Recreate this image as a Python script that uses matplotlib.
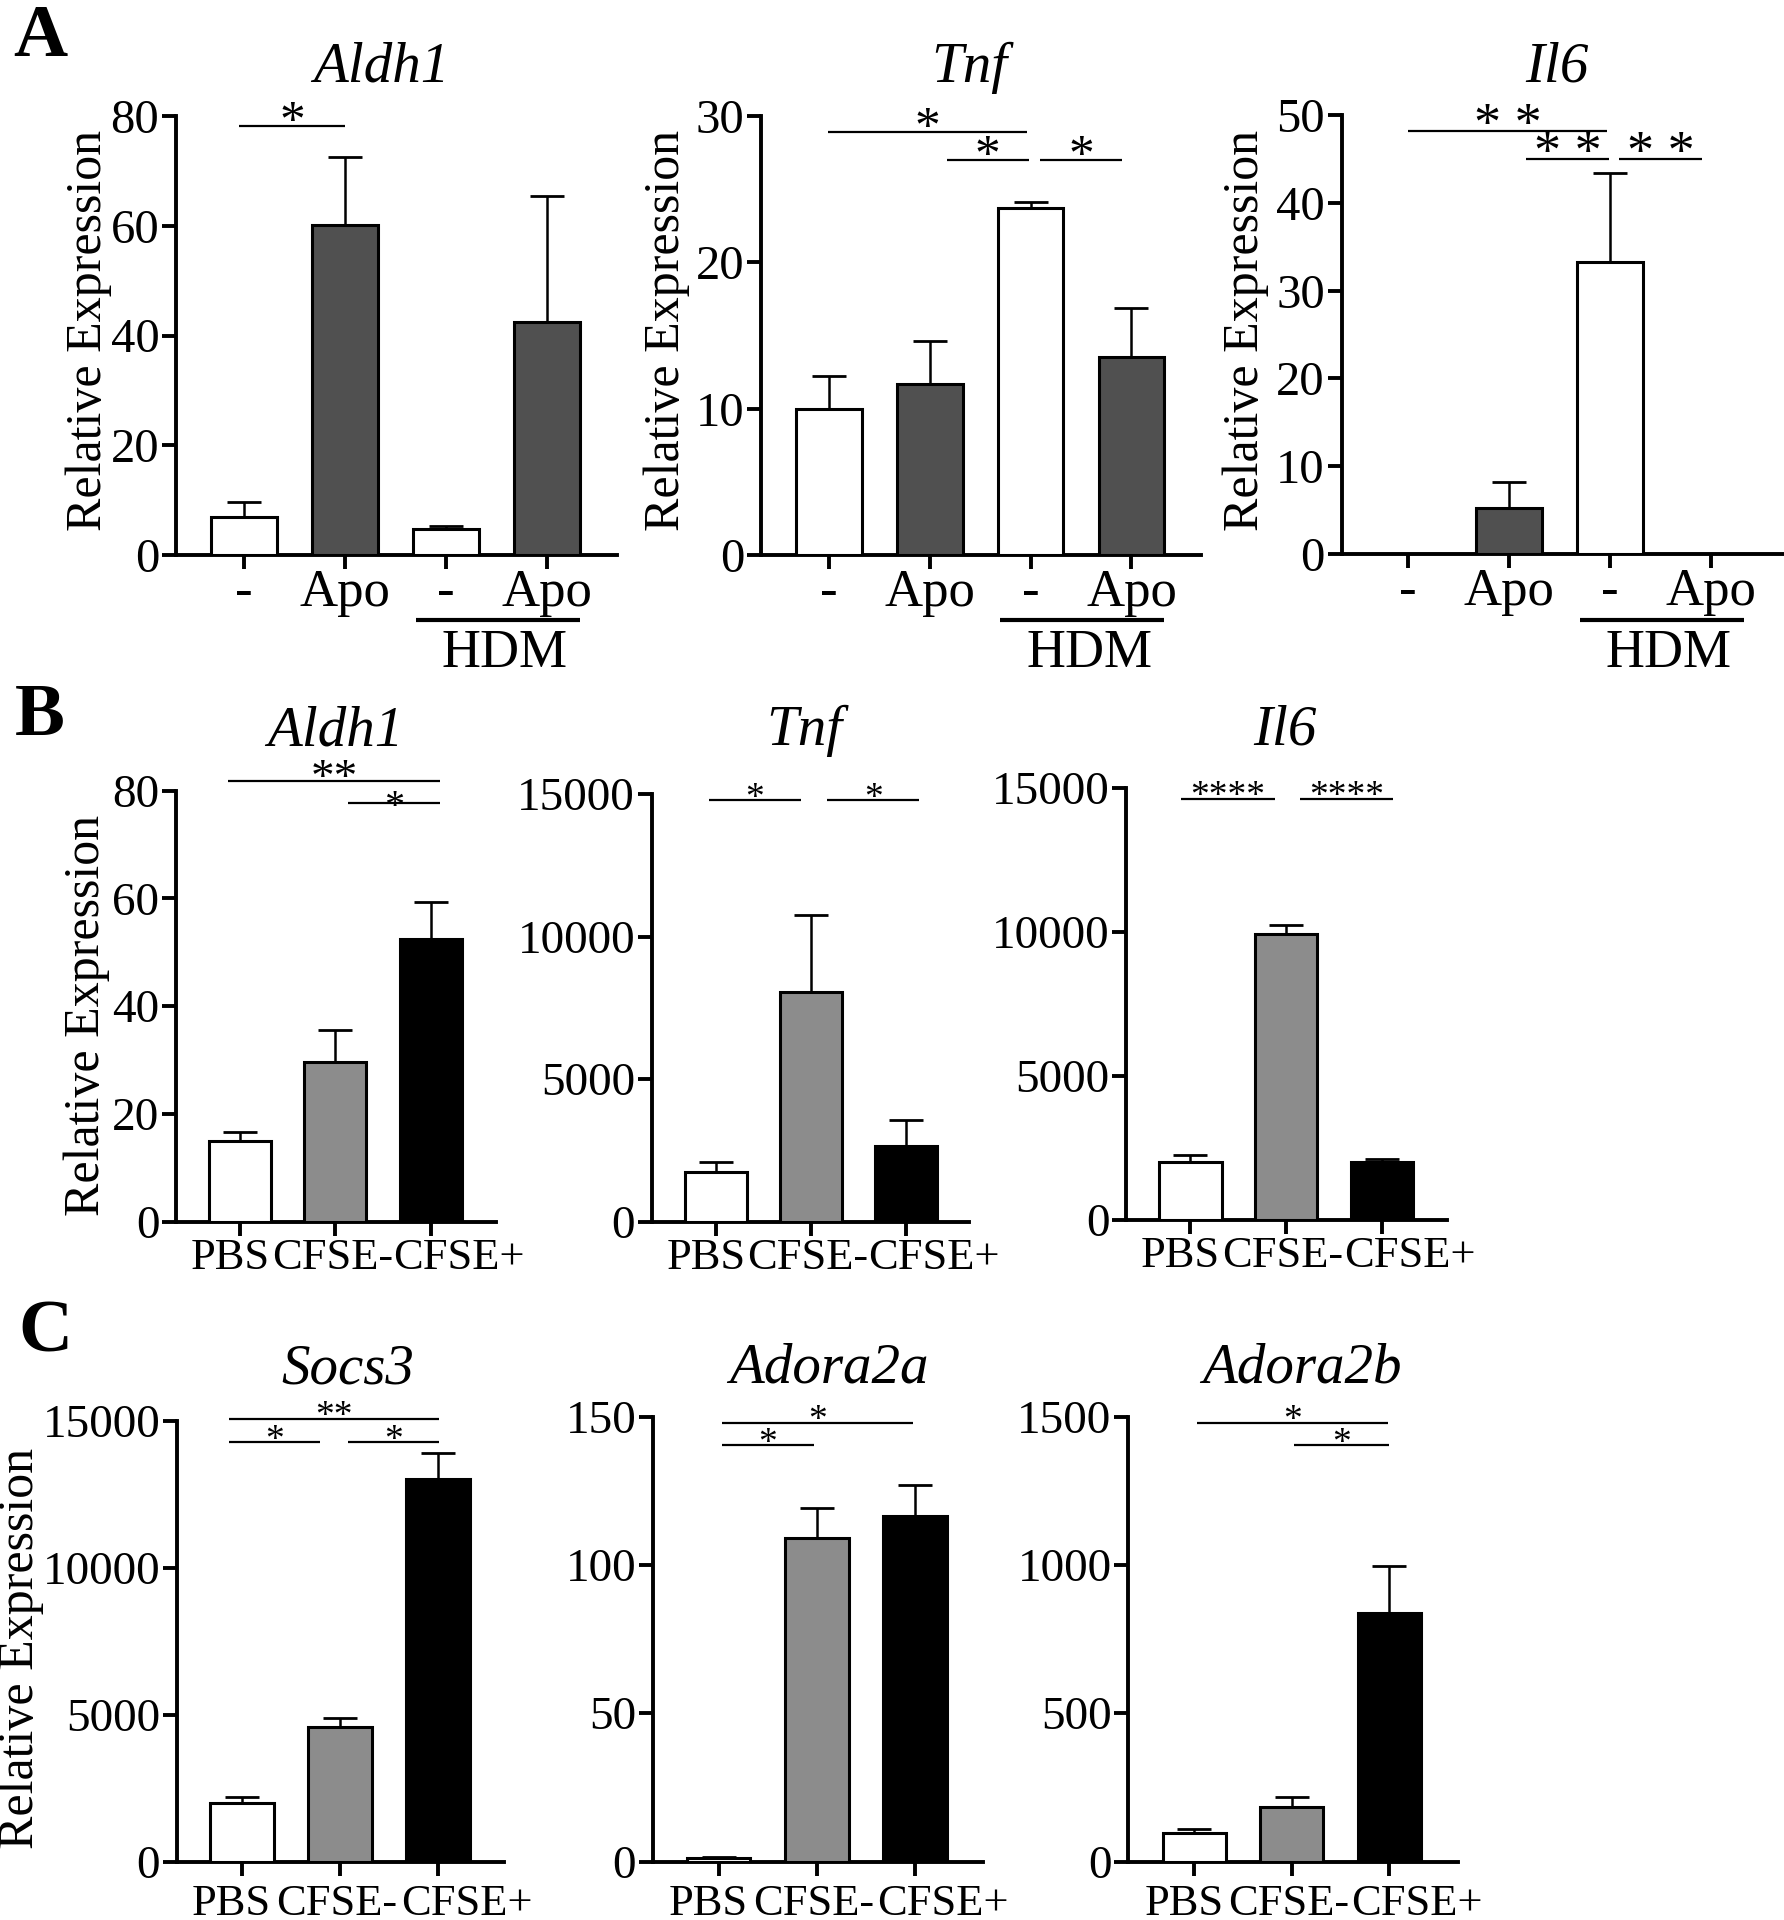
import numpy as np
import matplotlib
matplotlib.use("Agg")
import matplotlib.pyplot as plt
from matplotlib.transforms import blended_transform_factory, ScaledTranslation

plt.rcParams['font.family'] = ['Liberation Serif', 'DejaVu Serif']

W, H, DPI = 1784, 1920, 100

# ---------------- data ----------------
groups_A = ['-', 'Apo', '-', 'Apo']
groups_BC = ['PBS', 'CFSE-', 'CFSE+']
fill_A = ['white', '#505050', 'white', '#505050']
fill_BC = ['white', '#8c8c8c', 'black']

A_aldh1 = [7.0, 60.2, 4.7, 42.5]
A_aldh1_err = [2.7, 12.3, 0.5, 22.9]
A_tnf = [10.0, 11.7, 23.7, 13.5]
A_tnf_err = [2.25, 2.9, 0.4, 3.35]
A_il6 = [0.0, 5.2, 33.3, 0.0]
A_il6_err = [0.0, 3.0, 10.1, 0.0]

B_aldh1 = [14.9, 29.7, 52.5]
B_aldh1_err = [1.8, 5.9, 6.8]
B_tnf = [1750, 8060, 2660]
B_tnf_err = [330, 2700, 910]
B_il6 = [2020, 9930, 2020]
B_il6_err = [210, 290, 80]

C_socs3 = [1980, 4570, 13020]
C_socs3_err = [200, 320, 890]
C_adora2a = [1.2, 109.2, 116.4]
C_adora2a_err = [0.4, 10.0, 10.4]
C_adora2b = [95, 183, 839]
C_adora2b_err = [14, 33, 157]

# significance brackets: (x_start, x_end, y, label)
sig_A_aldh1 = [(-0.045, 1.0, 78.1, '*')]
sig_A_tnf = [(-0.01, 1.96, 28.9, '*'), (1.17, 1.98, 27.0, '*'), (2.09, 2.91, 27.0, '*')]
sig_A_il6 = [(0.0, 1.97, 48.2, '* *'), (1.17, 1.99, 45.0, '* *'), (2.09, 2.91, 45.0, '* *')]
sig_B_aldh1 = [(-0.12, 2.10, 81.8, '**'), (1.13, 2.10, 77.8, '*')]
sig_B_tnf = [(-0.08, 0.89, 14800, '*'), (1.17, 2.14, 14800, '*')]
sig_B_il6 = [(-0.10, 0.88, 14620, '****'), (1.14, 2.12, 14620, '****')]
sig_C_socs3 = [(-0.13, 2.01, 15070, '**'), (-0.13, 0.80, 14260, '*'), (1.08, 2.01, 14260, '*')]
sig_C_adora2a = [(0.03, 1.98, 148, '*'), (0.03, 0.97, 140.3, '*')]
sig_C_adora2b = [(0.03, 1.99, 1480, '*'), (1.02, 2.0, 1404, '*')]

fig = plt.figure(figsize=(W / DPI, H / DPI), dpi=DPI)

BC_LABEL_SHIFT = [-10, -3, 28]   # px shifts of the crowded category labels


def make_panel(box, mean, err, labels, fills, yticks, xlim, title, title_x, title_base,
               sigs, star_fs, star_gap, tick_fs, xtick_fs, xpad, ylabel_px=None,
               hdm=False, capsize=12.5, label_shift=None):
    l, r, t, b = box
    ax = fig.add_axes([l / W, 1 - b / H, (r - l) / W, (b - t) / H])
    x = np.arange(len(mean))
    ax.bar(x, mean, width=0.65, color=fills, edgecolor='black', linewidth=2.2, zorder=3)
    m = np.array(err) > 0
    ax.errorbar(x[m], np.array(mean)[m], yerr=[np.zeros(m.sum()), np.array(err)[m]],
                fmt='none', ecolor='black', elinewidth=1.8, capsize=capsize,
                capthick=2.0, zorder=2, clip_on=False)
    ax.set_xlim(*xlim)
    ax.set_ylim(0, yticks[-1])
    ax.set_yticks(yticks)
    ax.set_yticklabels([str(v) for v in yticks])
    ax.set_xticks(x)
    ax.set_xticklabels(labels)
    for s in ['top', 'right']:
        ax.spines[s].set_visible(False)
    for s in ['left', 'bottom']:
        ax.spines[s].set_linewidth(2.8)
    ax.tick_params(axis='y', length=10, width=2.8, labelsize=tick_fs, pad=2)
    ax.tick_params(axis='x', length=10, width=2.8, labelsize=xtick_fs, pad=xpad)
    ax.patch.set_alpha(0)
    if label_shift is not None:
        for lbl, dx in zip(ax.get_xticklabels(), label_shift):
            lbl.set_transform(lbl.get_transform() +
                              ScaledTranslation(dx / DPI, 0, fig.dpi_scale_trans))

    def yfrac(yp):
        return (b - yp) / (b - t)

    blend = blended_transform_factory(ax.transData, ax.transAxes)
    ax.text(title_x, yfrac(title_base), title, transform=blend, ha='center',
            va='baseline', fontsize=41, fontstyle='italic')

    for (x1, x2, yv, lab, *rest) in sigs:
        fs = rest[0] if rest else star_fs
        gap = rest[1] if len(rest) > 1 else star_gap
        ax.plot([x1, x2], [yv, yv], color='black', lw=1.6, clip_on=False,
                solid_capstyle='butt')
        em = fs * DPI / 72.0
        dy_px = gap - 0.265 * em
        tr = ax.transData + ScaledTranslation(0, dy_px / DPI, fig.dpi_scale_trans)
        ax.text((x1 + x2) / 2, yv, lab, transform=tr, ha='center', va='baseline',
                fontsize=fs)

    if ylabel_px is not None:
        ax.set_ylabel('Relative Expression', fontsize=36, va='center')
        ax.yaxis.set_label_coords((ylabel_px[0] - l) / (r - l), yfrac(ylabel_px[1]))

    if hdm:
        ax.plot([1.70, 3.32], [yfrac(620), yfrac(620)], transform=blend, color='black',
                lw=3.0, clip_on=False, solid_capstyle='butt')
        ax.text(2.58, yfrac(667), 'HDM', transform=blend, ha='center', va='baseline',
                fontsize=39)
    return ax


# Row A
make_panel((176, 617, 116, 555), A_aldh1, A_aldh1_err, groups_A, fill_A, [0, 20, 40, 60, 80],
           (-0.67, 3.69), 'Aldh1', 1.36, 82, sig_A_aldh1, 37, 5, 35, 38, 0,
           ylabel_px=(89, 330), hdm=True)
make_panel((761, 1201, 116, 555), A_tnf, A_tnf_err, groups_A, fill_A, [0, 10, 20, 30],
           (-0.675, 3.69), 'Tnf', 1.39, 82, sig_A_tnf, 37, 5, 35, 38, 0,
           ylabel_px=(667, 330), hdm=True)
make_panel((1341.5, 1784, 115, 554), A_il6, A_il6_err, groups_A, fill_A, [0, 10, 20, 30, 40, 50],
           (-0.66, 3.72), 'Il6', 1.47, 82, sig_A_il6, 39, 5, 35, 38, 0,
           ylabel_px=(1246, 330), hdm=True)

# Row B
make_panel((176, 495.5, 790.7, 1221.7), B_aldh1, B_aldh1_err, groups_BC, fill_BC, [0, 20, 40, 60, 80],
           (-0.67, 2.68), 'Aldh1', 1.0, 745,
           [sig_B_aldh1[0] + (34, 3), sig_B_aldh1[1] + (29, -4)], 27, 2, 34, 32, 2,
           ylabel_px=(87, 1015), label_shift=BC_LABEL_SHIFT)
make_panel((651.7, 969.3, 793.9, 1221.7), B_tnf, B_tnf_err, groups_BC, fill_BC, [0, 5000, 10000, 15000],
           (-0.68, 2.67), 'Tnf', 0.93, 745, sig_B_tnf, 27, 2, 34, 32, 2,
           label_shift=BC_LABEL_SHIFT)
make_panel((1126.3, 1447, 787.6, 1219.7), B_il6, B_il6_err, groups_BC, fill_BC, [0, 5000, 10000, 15000],
           (-0.67, 2.68), 'Il6', 0.99, 745, sig_B_il6, 27, 2, 34, 32, 2,
           label_shift=BC_LABEL_SHIFT)

# Row C
make_panel((176.8, 504.3, 1420.6, 1861.5), C_socs3, C_socs3_err, groups_BC, fill_BC, [0, 5000, 10000, 15000],
           (-0.66, 2.67), 'Socs3', 1.08, 1383, sig_C_socs3, 27, 2, 34, 32, 6,
           ylabel_px=(21, 1648), label_shift=BC_LABEL_SHIFT)
make_panel((652.8, 982.7, 1416.6, 1861.5), C_adora2a, C_adora2a_err, groups_BC, fill_BC, [0, 50, 100, 150],
           (-0.67, 2.69), 'Adora2a', 1.12, 1383, sig_C_adora2a, 27, 2, 34, 32, 6,
           label_shift=BC_LABEL_SHIFT)
make_panel((1128.2, 1458.4, 1416.6, 1861.5), C_adora2b, C_adora2b_err, groups_BC, fill_BC, [0, 500, 1000, 1500],
           (-0.68, 2.71), 'Adora2b', 1.10, 1383, sig_C_adora2b, 27, 2, 34, 32, 6,
           label_shift=BC_LABEL_SHIFT)

# Panel letters
for letter, (xp, yp) in zip(['A', 'B', 'C'], [(40, 56), (40, 735), (45, 1352)]):
    fig.text(xp / W, 1 - yp / H, letter, fontsize=54, fontweight='bold', ha='center',
             va='baseline')

fig.savefig('out.png', dpi=DPI)
